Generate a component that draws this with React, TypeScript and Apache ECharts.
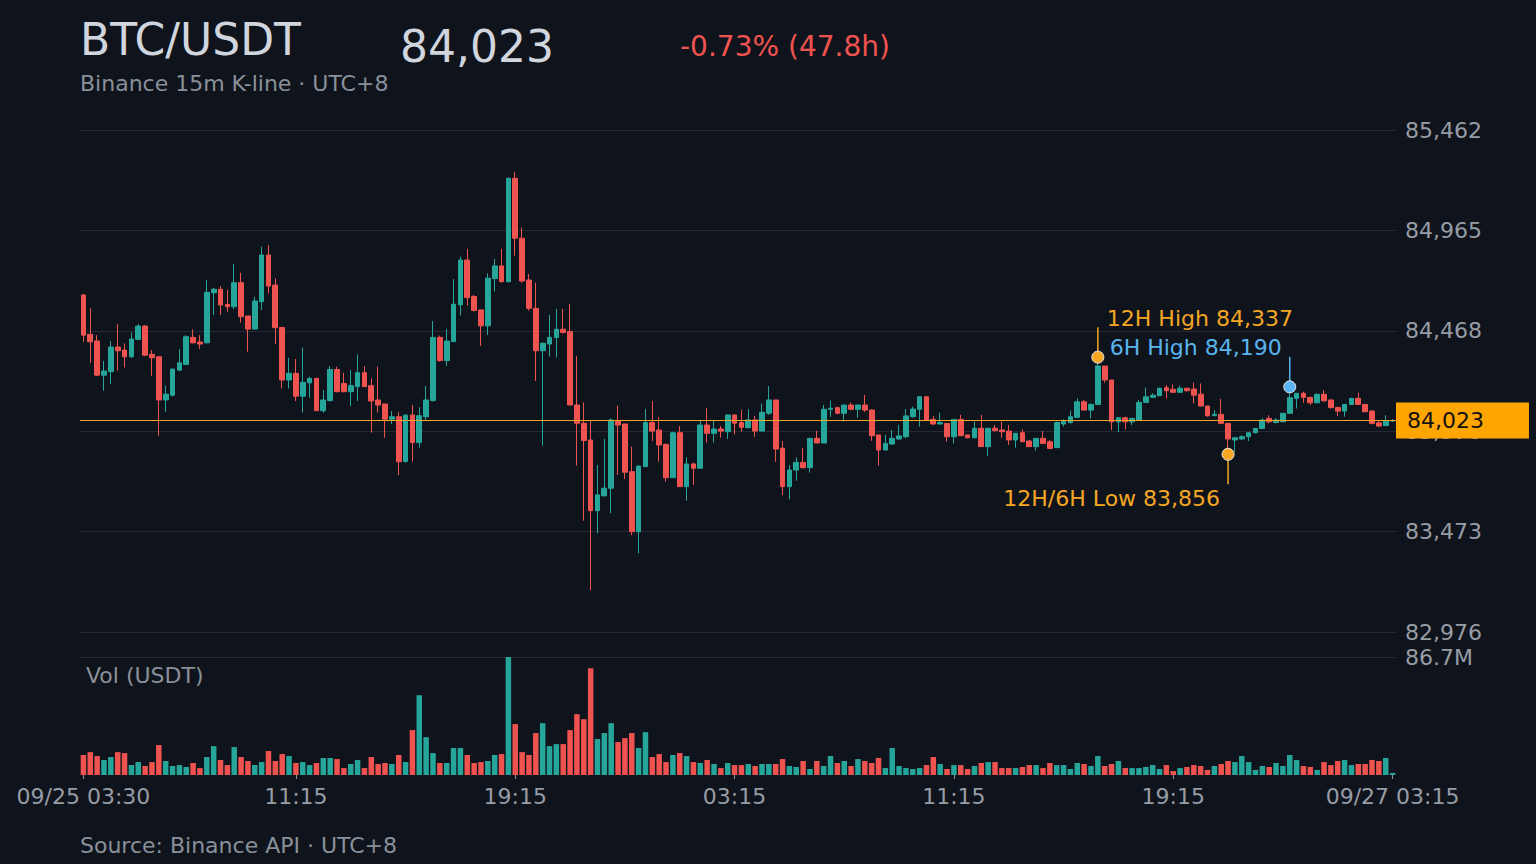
import { useEffect, useRef } from 'react';
import * as echarts from 'echarts';

const FONT = '"DejaVu Sans", "Noto Sans", sans-serif';
const UP = '#26a69a';
const DOWN = '#ef5350';
const ORANGE = '#f5a623';
const BLUE = '#5ab4f0';

// 15m candles, 09/25 03:30 -> 09/27 03:15 (UTC+8)
const opens = [
  84645, 84450, 84417, 84248, 84265, 84387, 84372, 84339, 84425, 84491,
  84351, 84339, 84125, 84149, 84273, 84301, 84435, 84412, 84408, 84656,
  84673, 84598, 84587, 84706, 84541, 84476, 84612, 84843, 84694, 84484,
  84224, 84257, 84144, 84210, 84232, 84072, 84122, 84276, 84207, 84166,
  84191, 84260, 84196, 84125, 84105, 84030, 84042, 83820, 84051, 83914,
  84042, 84122, 84435, 84320, 84414, 84596, 84818, 84637, 84571, 84492,
  84726, 84789, 84711, 85223, 84926, 84719, 84579, 84369, 84402, 84435,
  84475, 84464, 84100, 84010, 83927, 83577, 83650, 83688, 84021, 84006,
  83770, 83473, 83795, 84013, 83976, 83905, 83740, 83963, 83696, 83808,
  83787, 84001, 83960, 83981, 83968, 84051, 84013, 83988, 84026, 83971,
  84059, 84125, 83886, 83696, 83778, 83816, 83790, 83935, 83912, 84079,
  84087, 84059, 84100, 84079, 84100, 84075, 83952, 83877, 83907, 83932,
  83943, 84042, 84079, 84141, 84029, 84006, 84009, 83943, 84029, 83952,
  83938, 83985, 83894, 83985, 83976, 83971, 83927, 83963, 83922, 83894,
  83935, 83918, 83889, 84006, 84013, 84039, 84116, 84075, 84103, 84293,
  84224, 84017, 84037, 84017, 84026, 84113, 84138, 84146, 84186, 84178,
  84163, 84183, 84179, 84154, 84095, 84047, 84054, 84009, 83927, 83932,
  83943, 83963, 83984, 84034, 84014, 84017, 84059, 84133, 84158, 84138,
  84111, 84153, 84125, 84088, 84070, 84103, 84133, 84103, 84070, 84012,
  83998, 84021,
];
const highs = [
  84650, 84579, 84446, 84318, 84417, 84501, 84405, 84460, 84501, 84496,
  84372, 84339, 84196, 84280, 84377, 84446, 84475, 84446, 84719, 84681,
  84689, 84669, 84798, 84755, 84541, 84636, 84884, 84892, 84727, 84484,
  84334, 84328, 84385, 84240, 84235, 84174, 84293, 84290, 84260, 84273,
  84351, 84293, 84232, 84290, 84105, 84070, 84064, 84055, 84100, 84089,
  84194, 84516, 84444, 84477, 84723, 84835, 84873, 84645, 84571, 84752,
  84823, 84873, 85226, 85255, 84979, 84749, 84706, 84410, 84546, 84576,
  84576, 84601, 84343, 84113, 84023, 83803, 83932, 84034, 84097, 84006,
  83894, 83798, 84080, 84120, 84039, 83910, 83968, 83996, 83841, 83815,
  84023, 84084, 84023, 83996, 84051, 84051, 84076, 84079, 84046, 84108,
  84194, 84125, 83922, 83803, 83841, 83886, 83935, 83973, 84100, 84122,
  84092, 84100, 84112, 84100, 84150, 84079, 83952, 83952, 83976, 84001,
  84080, 84092, 84141, 84141, 84046, 84062, 84009, 84029, 84051, 83952,
  84018, 84051, 83985, 84001, 84018, 84001, 83960, 83980, 83927, 83935,
  83971, 83927, 84018, 84029, 84072, 84133, 84125, 84108, 84337, 84293,
  84224, 84037, 84042, 84034, 84125, 84187, 84158, 84186, 84199, 84202,
  84196, 84186, 84211, 84207, 84095, 84075, 84130, 84009, 83938, 83951,
  83963, 83984, 84034, 84050, 84034, 84059, 84190, 84158, 84166, 84141,
  84158, 84174, 84128, 84091, 84103, 84136, 84161, 84103, 84075, 84026,
  84050, 84030,
];
const lows = [
  84413, 84309, 84245, 84171, 84204, 84270, 84286, 84334, 84422, 84342,
  84245, 83948, 84067, 84141, 84268, 84298, 84405, 84377, 84405, 84546,
  84546, 84562, 84575, 84508, 84364, 84476, 84570, 84653, 84402, 84182,
  84182, 84120, 84062, 84136, 84070, 84062, 84118, 84163, 84163, 84096,
  84120, 84190, 83963, 84063, 83938, 84006, 83753, 83815, 83820, 83889,
  84026, 84117, 84315, 84293, 84414, 84543, 84592, 84563, 84393, 84447,
  84662, 84706, 84706, 84840, 84706, 84568, 84219, 83899, 84340, 84336,
  84455, 84100, 83800, 83527, 83183, 83465, 83650, 83564, 83754, 83734,
  83456, 83366, 83795, 83922, 83820, 83721, 83740, 83696, 83626, 83704,
  83787, 83914, 83914, 83939, 83932, 83955, 83968, 83985, 83943, 83971,
  84051, 83819, 83654, 83633, 83725, 83786, 83765, 83912, 83912, 84042,
  84054, 84018, 84075, 84037, 84066, 83923, 83800, 83877, 83902, 83927,
  83935, 84037, 83993, 84026, 84001, 84004, 83918, 83910, 83948, 83935,
  83935, 83894, 83849, 83968, 83938, 83902, 83889, 83918, 83894, 83874,
  83907, 83882, 83889, 83993, 84009, 84039, 84075, 84034, 84103, 84211,
  83976, 83965, 83979, 84001, 84026, 84113, 84136, 84146, 84133, 84161,
  84161, 84166, 84108, 84095, 84042, 84047, 84009, 83856, 83869, 83927,
  83922, 83960, 83984, 84009, 84009, 84017, 84059, 84083, 84111, 84100,
  84111, 84116, 84083, 84045, 84042, 84100, 84100, 84064, 84004, 83993,
  83998, 84017,
];
const closes = [
  84446, 84413, 84248, 84268, 84387, 84369, 84339, 84427, 84491, 84347,
  84334, 84125, 84154, 84278, 84309, 84438, 84408, 84402, 84658, 84673,
  84595, 84587, 84706, 84537, 84476, 84615, 84843, 84689, 84483, 84224,
  84257, 84144, 84212, 84232, 84072, 84125, 84276, 84166, 84166, 84196,
  84260, 84191, 84120, 84100, 84030, 84042, 83819, 84050, 83914, 84047,
  84125, 84435, 84320, 84417, 84599, 84818, 84632, 84568, 84492, 84728,
  84789, 84711, 85223, 84926, 84714, 84579, 84369, 84406, 84435, 84475,
  84459, 84100, 84010, 83924, 83577, 83655, 83688, 84026, 84001, 83767,
  83473, 83798, 84013, 83971, 83902, 83740, 83963, 83696, 83808, 83787,
  84001, 83960, 83981, 83971, 84051, 84010, 83990, 84026, 83971, 84064,
  84125, 83882, 83696, 83778, 83816, 83790, 83935, 83912, 84079, 84084,
  84059, 84100, 84079, 84100, 84075, 83948, 83877, 83910, 83935, 83947,
  84046, 84080, 84141, 84026, 84006, 84013, 83943, 84029, 83948, 83938,
  83985, 83894, 83985, 83973, 83968, 83927, 83960, 83918, 83894, 83935,
  83910, 83885, 84013, 84018, 84042, 84116, 84075, 84103, 84293, 84224,
  84017, 84037, 84017, 84034, 84113, 84141, 84149, 84183, 84171, 84163,
  84183, 84171, 84149, 84095, 84047, 84054, 84009, 83932, 83938, 83943,
  83963, 83984, 84026, 84017, 84026, 84059, 84136, 84158, 84138, 84111,
  84153, 84121, 84087, 84070, 84103, 84133, 84103, 84067, 84009, 83996,
  84021, 84023,
];
// volume in millions of USDT
const volumes = [
  14.7, 16.8, 13.9, 11.0, 13.2, 16.8, 16.1, 7.3, 9.5, 6.6,
  9.5, 22.0, 10.3, 6.6, 7.3, 5.9, 8.8, 5.1, 13.2, 21.2,
  11.0, 7.3, 20.5, 13.2, 10.3, 7.3, 9.5, 17.6, 10.3, 15.4,
  13.9, 8.8, 9.5, 7.3, 8.8, 12.5, 12.5, 11.7, 5.1, 8.1,
  11.0, 5.1, 13.2, 8.1, 8.8, 8.1, 14.7, 9.5, 33.0, 58.6,
  27.8, 16.1, 8.8, 8.8, 19.8, 19.8, 14.7, 8.8, 9.5, 10.3,
  14.7, 15.4, 86.7, 37.4, 16.8, 14.7, 30.8, 38.1, 21.2, 22.7,
  22.7, 33.0, 44.7, 41.0, 78.4, 26.4, 30.8, 38.1, 24.2, 27.1,
  30.8, 19.8, 31.5, 13.2, 15.4, 9.5, 14.7, 16.1, 13.9, 9.5,
  8.8, 11.0, 8.1, 5.1, 8.8, 7.3, 7.3, 8.1, 6.6, 8.1,
  8.1, 8.1, 11.7, 6.6, 5.9, 10.3, 4.4, 10.3, 6.6, 13.9,
  8.8, 10.3, 6.6, 11.7, 10.3, 8.8, 12.5, 5.1, 19.8, 6.6,
  5.1, 4.4, 5.1, 7.3, 13.2, 8.1, 4.4, 7.3, 7.3, 4.4,
  6.6, 8.8, 9.5, 9.5, 5.1, 5.1, 5.1, 5.9, 7.3, 7.3,
  5.1, 8.8, 7.3, 7.3, 4.4, 8.8, 8.1, 6.6, 13.9, 6.6,
  8.1, 10.3, 5.1, 5.1, 5.1, 5.9, 7.3, 4.4, 7.3, 2.9,
  5.1, 5.9, 7.3, 6.6, 3.7, 6.6, 8.1, 10.3, 9.5, 13.9,
  9.5, 3.7, 6.6, 5.9, 8.8, 6.6, 14.7, 11.0, 6.6, 5.9,
  3.7, 9.5, 7.3, 10.3, 11.0, 7.3, 8.1, 8.1, 11.0, 10.3,
  12.5, 1.5,
];

// y axis ticks run 82,976 .. 85,462 in 5 steps
const PRICE_MIN = 82976;
const PRICE_MAX = 85462;

// annotations
const markIdx = [148, 176, 167];
const markPrice = [84337, 84190, 83856];
const markText = ['12H High 84,337', '6H High 84,190', '12H/6H Low 83,856'];

const N = closes.length;
const pad = (n: number) => String(n).padStart(2, '0');
const times = closes.map((_, i) => {
  const t = 3 * 60 + 30 + i * 15;
  const day = 25 + Math.floor(t / 1440);
  const m = t % 1440;
  return `09/${day} ${pad(Math.floor(m / 60))}:${pad(m % 60)}`;
});

export default function App() {
  const chartRef = useRef<HTMLDivElement>(null);

  useEffect(() => {
    document.body.style.margin = '0';
    if (!chartRef.current) return;
    const chart = echarts.init(chartRef.current, null, { renderer: 'svg' });

    // prices are drawn relative to the axis minimum so ticks start at 82,976
    const base = PRICE_MIN;
    const span = PRICE_MAX - PRICE_MIN;
    const step = span / 5;
    const last = closes[N - 1];
    const volMax = Math.max(...volumes);
    const showIdx = (i: number) => i === 0 || (N - 1 - i) % 32 === 0;

    const candles = closes.map((c, i) => [opens[i] - base, c - base, lows[i] - base, highs[i] - base]);
    const vols = volumes.map((v, i) => ({
      value: v,
      itemStyle: { color: closes[i] >= opens[i] ? UP : DOWN },
    }));

    const markStyle = [
      { dir: -1, align: 'left', color: ORANGE },
      { dir: -1, align: 'right', color: BLUE },
      { dir: 1, align: 'right', color: ORANGE },
    ];

    const label = { color: '#979ca5', fontSize: 22, fontFamily: FONT };

    const option: echarts.EChartsOption = {
      animation: false,
      backgroundColor: '#0f141c',
      textStyle: { fontFamily: FONT },
      grid: [
        { left: 80, width: 1316, top: 130, height: 502 },
        { left: 80, width: 1316, top: 657, height: 118 },
      ],
      xAxis: [
        {
          type: 'category',
          gridIndex: 0,
          data: times,
          boundaryGap: true,
          axisLine: { show: false },
          axisTick: { show: false },
          axisLabel: { show: false },
          splitLine: { show: false },
        },
        {
          type: 'category',
          gridIndex: 1,
          data: times,
          boundaryGap: true,
          axisLine: { show: false },
          axisTick: {
            show: true,
            alignWithLabel: true,
            length: 4,
            interval: (i: number) => showIdx(i),
            lineStyle: { color: '#8a9099' },
          },
          axisLabel: {
            ...label,
            margin: 10,
            interval: (i: number) => showIdx(i),
            formatter: (v: string, i: number) => (i === 0 || i === N - 1 ? v : v.slice(6)),
          },
          splitLine: { show: false },
        },
      ],
      yAxis: [
        {
          type: 'value',
          gridIndex: 0,
          position: 'right',
          min: 0,
          max: span,
          interval: step,
          axisLine: { show: false },
          axisTick: { show: false },
          splitLine: { lineStyle: { color: '#252a34', width: 1 } },
          axisLabel: {
            ...label,
            margin: 9,
            formatter: (v: number) => Math.round(v + base).toLocaleString('en-US'),
          },
        },
        {
          type: 'value',
          gridIndex: 1,
          position: 'right',
          min: 0,
          max: volMax,
          interval: volMax,
          axisLine: { show: false },
          axisTick: { show: false },
          splitLine: { lineStyle: { color: ['rgba(0,0,0,0)', '#252a34'], width: 1 } },
          axisLabel: {
            ...label,
            margin: 9,
            showMinLabel: false,
            formatter: (v: number) => `${v.toFixed(1)}M`,
          },
        },
      ],
      series: [
        {
          type: 'candlestick',
          xAxisIndex: 0,
          yAxisIndex: 0,
          data: candles,
          barWidth: '76%',
          itemStyle: {
            color: UP,
            color0: DOWN,
            borderColor: UP,
            borderColor0: DOWN,
            borderWidth: 1,
          },
          markLine: {
            silent: true,
            symbol: ['none', 'none'],
            lineStyle: { color: ORANGE, width: 1, type: 'solid' },
            label: {
              position: 'end',
              distance: 0,
              formatter: last.toLocaleString('en-US'),
              backgroundColor: '#ffa500',
              color: '#111111',
              fontSize: 22,
              fontFamily: FONT,
              lineHeight: 22,
              padding: [7, 45, 7, 11],
            },
            data: [{ yAxis: last - base }],
          },
        },
        {
          type: 'bar',
          xAxisIndex: 1,
          yAxisIndex: 1,
          data: vols,
          barWidth: '80%',
        },
        {
          type: 'custom',
          xAxisIndex: 0,
          yAxisIndex: 0,
          z: 10,
          clip: false,
          data: markIdx.map((x, i) => [x, markPrice[i] - base]),
          renderItem: (params: any, api: any) => {
            const i = params.dataIndex;
            const s = markStyle[i];
            const p = api.coord([api.value(0), api.value(1)]);
            const end = p[1] + s.dir * 30;
            const ty = s.dir < 0 ? end - 9 : end + 14;
            const tx = s.align === 'left' ? p[0] + 9 : p[0] - 8;
            return {
              type: 'group',
              children: [
                {
                  type: 'line',
                  shape: { x1: p[0], y1: p[1], x2: p[0], y2: end },
                  style: { stroke: s.color, lineWidth: 1.5 },
                },
                {
                  type: 'circle',
                  shape: { cx: p[0], cy: p[1], r: 6 },
                  style: { fill: s.color, stroke: '#e8e8e8', lineWidth: 1 },
                },
                {
                  type: 'text',
                  x: tx,
                  y: ty,
                  style: {
                    text: markText[i],
                    fill: s.color,
                    fontSize: 22,
                    fontFamily: FONT,
                    align: s.align,
                    verticalAlign: 'middle',
                  },
                },
              ],
            };
          },
        },
      ],
      graphic: [
        {
          type: 'text',
          x: 80,
          y: 39,
          style: { text: 'BTC/USDT', fill: '#d1d6de', fontSize: 44, fontFamily: FONT, verticalAlign: 'middle' },
        },
        {
          type: 'text',
          x: 400,
          y: 46,
          style: { text: last.toLocaleString('en-US'), fill: '#d1d6de', fontSize: 44, fontFamily: FONT, verticalAlign: 'middle' },
        },
        {
          type: 'text',
          x: 680,
          y: 46,
          style: { text: '-0.73% (47.8h)', fill: DOWN, fontSize: 28, fontFamily: FONT, verticalAlign: 'middle' },
        },
        {
          type: 'text',
          x: 80,
          y: 83,
          style: { text: 'Binance 15m K-line · UTC+8', fill: '#8a9099', fontSize: 22, fontFamily: FONT, verticalAlign: 'middle' },
        },
        {
          type: 'text',
          x: 86,
          y: 675,
          style: { text: 'Vol (USDT)', fill: '#8a9099', fontSize: 22, fontFamily: FONT, verticalAlign: 'middle' },
        },
        {
          type: 'text',
          x: 80,
          y: 845,
          style: { text: 'Source: Binance API · UTC+8', fill: '#8a9099', fontSize: 22, fontFamily: FONT, verticalAlign: 'middle' },
        },
      ],
    };

    chart.setOption(option);

    return () => {
      chart.dispose();
    };
  }, []);

  return <div ref={chartRef} style={{ width: 1536, height: 864 }} />;
}
